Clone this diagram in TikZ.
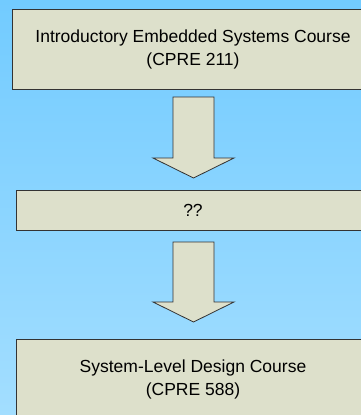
\documentclass[tikz,border=0pt]{standalone}
\usepackage{fontspec}
\setmainfont{Liberation Sans}
\definecolor{bgtop}{HTML}{72CBFF}
\definecolor{bgbot}{HTML}{A3DEFF}
\definecolor{boxfill}{HTML}{DDE0CB}
\definecolor{boxedge}{HTML}{333333}
\begin{document}
\begin{tikzpicture}[x=1pt,y=-1pt,
  coursebox/.style={draw=boxedge,fill=boxfill,line width=1pt,inner sep=0pt,
    align=center,font=\fontsize{17.5}{23}\selectfont},
  blockarrow/.style={draw=boxedge,fill=boxfill,line width=0.8pt,line join=miter}]
\useasboundingbox (0,0) rectangle (361,415);
\clip (0,0) rectangle (361,415);
\shade[top color=bgtop,bottom color=bgbot] (0,0) rectangle (361,415);
\node[coursebox,minimum width=362pt,minimum height=80pt] (intro) at (193,49)
  {Introductory Embedded Systems Course\\(CPRE 211)};
\node[coursebox,minimum width=354pt,minimum height=40pt] (mid) at (193,210) {??};
\node[coursebox,minimum width=354pt,minimum height=80pt] (sld) at (193,379)
  {System-Level Design Course\\(CPRE 588)};
\draw[blockarrow] (173,97) -- (214,97) -- (214,158) -- (234,158) -- (193.5,178)
  -- (153,158) -- (173,158) -- cycle;
\draw[blockarrow] (173,242) -- (214,242) -- (214,302) -- (234,302) -- (193.5,322)
  -- (153,302) -- (173,302) -- cycle;
\end{tikzpicture}
\end{document}
